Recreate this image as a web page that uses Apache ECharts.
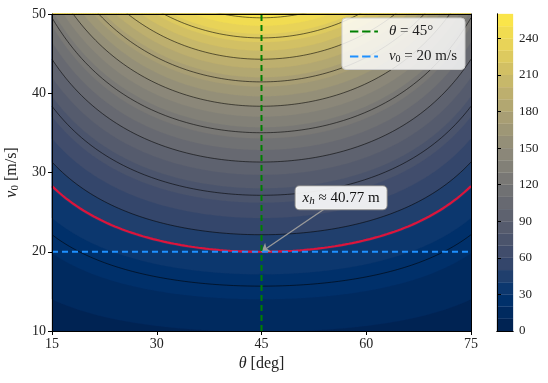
<!DOCTYPE html>
<html>
<head>
<meta charset="utf-8">
<script src="https://cdn.jsdelivr.net/npm/echarts@6/dist/echarts.min.js"></script>
<style>html,body{margin:0;padding:0;background:#fff;}#c{width:548px;height:383px;}</style>
</head>
<body>
<div id="c"></div>
<script>
// ---- data ----
const g = 9.81;                         // gravity [m/s^2]
const thetaRange = [15, 75];            // launch angle [deg]
const v0Range = [10, 50];               // launch speed [m/s]
const fillLevels = [0,10,20,30,40,50,60,70,80,90,100,110,120,130,140,150,160,170,180,190,200,210,220,230,240,250,260];
const lineLevels = [25,50,75,100,125,150,175,200,225,250];
const refTheta = 45;
const refV0 = 20;
const refRange = 40.77;
const xTicks = [15,30,45,60,75];
const yTicks = [10,20,30,40,50];
const cbTicks = [0,30,60,90,120,150,180,210,240];
const annotText = [56.4, 26.8];
const annotArrowStart = [54.0, 25.4];

// cividis colormap stops
const cividis = ['#00204D','#00336F','#39486B','#575C6D','#707173','#8A8779','#A69D75','#C4B56C','#E4CF5B','#FFEA46'];
function hex2rgb(h){return [parseInt(h.substr(1,2),16),parseInt(h.substr(3,2),16),parseInt(h.substr(5,2),16)];}
function cmap(t){
  t=Math.max(0,Math.min(1,t));
  const n=cividis.length-1, p=t*n, i=Math.min(n-1,Math.floor(p)), f=p-i;
  const a=hex2rgb(cividis[i]), b=hex2rgb(cividis[i+1]);
  return 'rgb('+a.map((v,k)=>Math.round(v+(b[k]-v)*f)).join(',')+')';
}
const lvMin=fillLevels[0], lvMax=fillLevels[fillLevels.length-1];
const bandColors = fillLevels.slice(0,-1).map((L,i)=>cmap(((L+fillLevels[i+1])/2-lvMin)/(lvMax-lvMin)));

// horizontal range model x_h = v0^2 sin(2θ)/g  -> v0 at given range
function v0For(L, th){ return Math.sqrt(L*g/Math.sin(2*th*Math.PI/180)); }
const thetaSamples=[]; for(let k=0;k<=240;k++) thetaSamples.push(thetaRange[0]+(thetaRange[1]-thetaRange[0])*k/240);
const clampV=v=>Math.max(v0Range[0],Math.min(v0Range[1],v));

const serif='"Liberation Serif","DejaVu Serif",serif';
const dashIcon='path://M0,0H9V2H0Z M13,0H22V2H13Z M26,0H30V2H26Z';

const series=[];
series.push({
  type:'custom', name:'bands', xAxisIndex:0, yAxisIndex:0, silent:true, z:1,
  data: fillLevels.slice(0,-1).map((L,i)=>[i,L]),
  renderItem:function(params,api){
    const i=params.dataIndex, L=fillLevels[i];
    const pts=thetaSamples.map(th=>api.coord([th, clampV(L===0?0:v0For(L,th))]));
    pts.push(api.coord([thetaRange[1],v0Range[1]]));
    pts.push(api.coord([thetaRange[0],v0Range[1]]));
    return {type:'polygon', shape:{points:pts}, style:{fill:bandColors[i], stroke:bandColors[i], lineWidth:0.3}};
  }
});
lineLevels.forEach(L=>{
  series.push({type:'line', name:'c'+L, xAxisIndex:0, yAxisIndex:0, symbol:'none', silent:true, z:3,
    clip:true, data:thetaSamples.map(th=>[th, Math.min(v0For(L,th), 200)]),
    lineStyle:{color:'rgba(0,0,0,0.8)', width:0.7}});
});
series.push({type:'line', name:'ref', xAxisIndex:0, yAxisIndex:0, symbol:'none', silent:true, z:4,
  data:thetaSamples.map(th=>[th, v0For(refRange,th)]), lineStyle:{color:'#dc143c', width:2.2}});
series.push({type:'line', name:'s45', xAxisIndex:0, yAxisIndex:0, symbol:'none', z:5,
  data:[[refTheta,v0Range[0]],[refTheta,v0Range[1]]], lineStyle:{color:'#008000', width:2, type:[6,4]}, itemStyle:{color:'#008000'}});
series.push({type:'line', name:'s20', xAxisIndex:0, yAxisIndex:0, symbol:'none', z:6,
  data:[[thetaRange[0],refV0],[thetaRange[1],refV0]], lineStyle:{color:'#1e90ff', width:2, type:[6,4]}, itemStyle:{color:'#1e90ff'}});
series.push({type:'scatter', name:'annot', xAxisIndex:0, yAxisIndex:0, symbolSize:0, z:8, silent:true,
  itemStyle:{opacity:1},
  data:[annotText],
  label:{show:true, position:'inside', opacity:1, formatter:'{i|x}{s|h} ≈ 40.77 m', fontFamily:serif, fontSize:15, color:'#111',
    backgroundColor:'rgba(250,250,250,0.93)', borderColor:'#8a8a8a', borderWidth:1, borderRadius:4, padding:[3,7,3,7],
    rich:{i:{fontStyle:'italic',fontFamily:serif,fontSize:15,color:'#111'}, s:{fontStyle:'italic',fontFamily:serif,fontSize:11,color:'#111',verticalAlign:'bottom',padding:[6,0,0,0]}}},
  markLine:{silent:true, symbol:['none','arrow'], symbolSize:8, animation:false,
    lineStyle:{color:'#9a9a9a', width:1.3, type:'solid', opacity:1}, label:{show:false},
    data:[[{coord:annotArrowStart},{coord:[refTheta,refV0]}]]}
});
series.push({type:'custom', name:'cbar', xAxisIndex:1, yAxisIndex:2, silent:true, z:1,
  data: fillLevels.slice(0,-1).map((L,i)=>[i,L]),
  renderItem:function(params,api){
    const i=params.dataIndex;
    const p0=api.coord([0,fillLevels[i]]), p1=api.coord([1,fillLevels[i+1]]);
    return {type:'rect', shape:{x:p0[0], y:p1[1], width:p1[0]-p0[0], height:p0[1]-p1[1]}, style:{fill:bandColors[i], stroke:bandColors[i], lineWidth:0.3}};
  }
});

const axLine={show:true, lineStyle:{color:'#000', width:1}};
const option={
  animation:false,
  grid:[{left:52, top:14, width:419, height:317, outerBoundsMode:'none', containLabel:false},
        {left:497, top:14, width:16, height:317, outerBoundsMode:'none', containLabel:false}],
  xAxis:[
    {gridIndex:0, type:'value', min:thetaRange[0], max:thetaRange[1], interval:15, z:10,
     axisLine:axLine, axisTick:{show:true, length:4, lineStyle:{color:'#000'}}, splitLine:{show:false},
     axisLabel:{color:'#222', fontFamily:serif, fontSize:14, margin:6},
     name:'{i|θ} [deg]', nameLocation:'middle', nameGap:25, nameTextStyle:{fontFamily:serif, fontSize:16, color:'#222',
       rich:{i:{fontStyle:'italic', fontFamily:serif, fontSize:16, color:'#222'}}}},
    {gridIndex:1, type:'value', min:0, max:1, show:false},
    {gridIndex:0, type:'value', position:'top', min:thetaRange[0], max:thetaRange[1], z:10,
     axisLine:axLine, axisTick:{show:false}, axisLabel:{show:false}, splitLine:{show:false}},
    {gridIndex:1, type:'value', position:'top', min:0, max:1, z:10,
     axisLine:axLine, axisTick:{show:false}, axisLabel:{show:false}, splitLine:{show:false}},
    {gridIndex:1, type:'value', position:'bottom', min:0, max:1, z:10,
     axisLine:axLine, axisTick:{show:false}, axisLabel:{show:false}, splitLine:{show:false}}
  ],
  yAxis:[
    {gridIndex:0, type:'value', min:v0Range[0], max:v0Range[1], interval:10, z:10,
     axisLine:axLine, axisTick:{show:true, length:4, lineStyle:{color:'#000'}}, splitLine:{show:false},
     axisLabel:{color:'#222', fontFamily:serif, fontSize:14, margin:6},
     name:'{i|v}{s|0} [m/s]', nameLocation:'middle', nameGap:26,
     nameTextStyle:{fontFamily:serif, fontSize:16, color:'#222',
       rich:{i:{fontStyle:'italic', fontFamily:serif, fontSize:16, color:'#222'}, s:{fontFamily:serif, fontSize:11, color:'#222', verticalAlign:'bottom', padding:[7,0,0,0]}}}},
    {gridIndex:0, type:'value', position:'right', min:v0Range[0], max:v0Range[1], z:10,
     axisLine:axLine, axisTick:{show:false}, axisLabel:{show:false}, splitLine:{show:false}},
    {gridIndex:1, type:'value', position:'right', min:lvMin, max:lvMax, z:10,
     axisLine:axLine, splitLine:{show:false},
     axisTick:{show:true, length:4, customValues:cbTicks, lineStyle:{color:'#000'}},
     axisLabel:{color:'#222', fontFamily:serif, fontSize:13, margin:6, customValues:cbTicks}},
    {gridIndex:1, type:'value', position:'left', min:lvMin, max:lvMax, z:10,
     axisLine:axLine, axisTick:{show:false}, axisLabel:{show:false}, splitLine:{show:false}}
  ],
  legend:{
    data:[{name:'s45', icon:dashIcon, itemStyle:{color:'#008000'}},{name:'s20', icon:dashIcon, itemStyle:{color:'#1e90ff'}}],
    orient:'vertical', right:83, top:18,
    backgroundColor:'rgba(255,255,255,0.82)', borderColor:'#cccccc', borderWidth:1, borderRadius:4,
    padding:[6,8,5,8], itemWidth:28, itemHeight:3, itemGap:10,
    formatter:function(n){ return n==='s45' ? '{i|θ} = 45°' : '{i|v}{s|0} = 20 m/s'; },
    textStyle:{fontFamily:serif, fontSize:15, color:'#222', padding:[0,0,0,6],
      rich:{i:{fontStyle:'italic', fontFamily:serif, fontSize:15, color:'#222'}, s:{fontFamily:serif, fontSize:10, color:'#222', verticalAlign:'bottom', padding:[6,0,0,0]}}}
  },
  series:series
};
const chart=echarts.init(document.getElementById('c'),null,{renderer:'canvas'});
chart.setOption(option);
</script>
</body>
</html>
